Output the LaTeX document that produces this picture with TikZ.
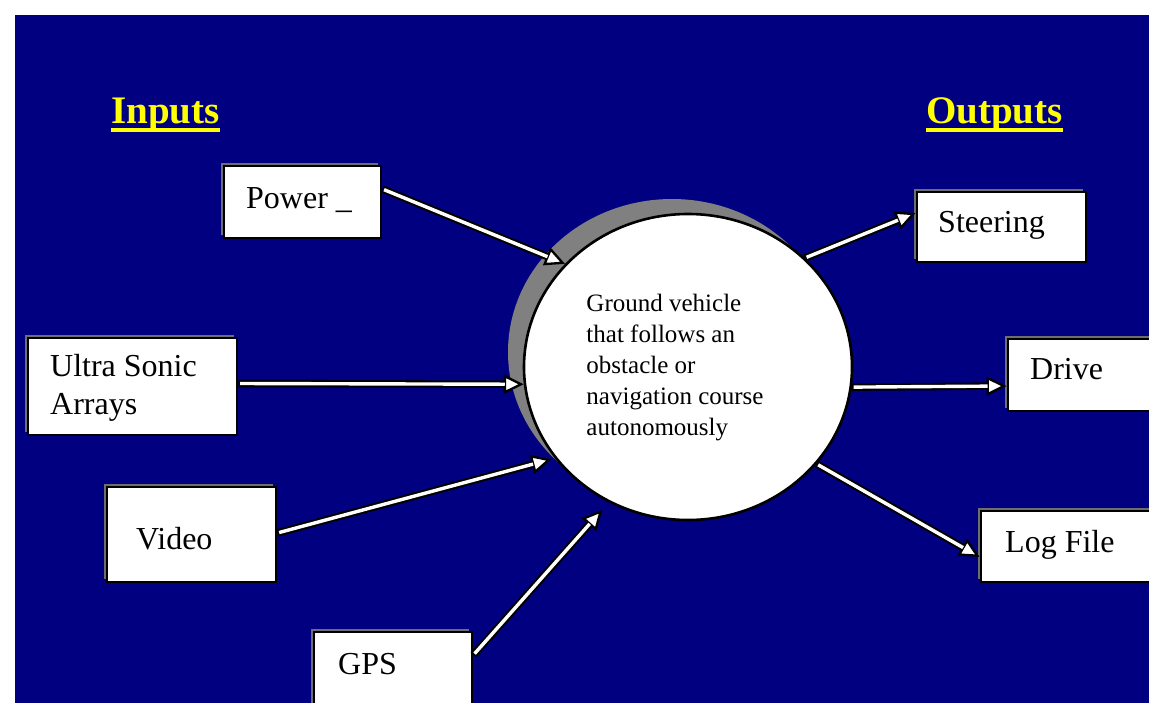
\documentclass[tikz,border=0pt]{standalone}
\usepackage{fontspec}
\setmainfont{Liberation Serif}
\usetikzlibrary{arrows.meta,calc,shapes.geometric,shadows}

\definecolor{navy}{HTML}{000080}
\definecolor{boxshade}{HTML}{6E6E6E}
\definecolor{discshade}{HTML}{808080}
\definecolor{headyellow}{HTML}{FFFF00}

\tikzset{
  ioblock/.style={rectangle, draw=black, fill=white, line width=2.8pt, inner sep=0pt,
    general shadow={fill=boxshade, shadow xshift=-3.5pt, shadow yshift=3.5pt}},
  boxtext/.style={inner sep=0pt, anchor=base west, font=\fontsize{32}{38}\selectfont},
  heading/.style={inner sep=0pt, anchor=base west, text=headyellow,
    font=\fontsize{39}{45}\selectfont\bfseries},
  headrule/.style={draw=headyellow, line width=4pt},
  flow/.style={draw=black, line width=7.5pt,
    -{Triangle[fill=white, length=20pt, width=19pt, line width=2.3pt]},
    postaction={draw=white, line width=3.4pt, -, shorten >=19pt, shorten <=1.8pt}},
}

\begin{document}
\begin{tikzpicture}[x=1pt,y=-1pt]
\useasboundingbox (0,0) rectangle (1149,702);
\clip (0,0) rectangle (1149,702);

% slide background
\fill[navy] (15,15) rectangle (1170,720);

% column headings
\node[heading] (inputs) at (111,123) {Inputs};
\node[heading] (outputs) at (926,123) {Outputs};
\draw[headrule] ($(inputs.base west)+(0,7)$) -- ($(inputs.base east)+(0,7)$);
\draw[headrule] ($(outputs.base west)+(0,7)$) -- ($(outputs.base east)+(0,7)$);

% central process
\node[ellipse, draw=black, fill=white, line width=2.6pt, inner sep=0pt,
      minimum width=328pt, minimum height=306pt,
      general shadow={fill=discshade, shadow xshift=-16pt, shadow yshift=15pt}]
      (veh) at (688,367) {};
\node[inner sep=0pt, align=left, font=\fontsize{25}{31}\selectfont] (vehtext) at (675,368)
  {Ground vehicle\\that follows an\\obstacle or\\navigation course\\autonomously};

% input blocks
\node[ioblock, minimum width=157pt, minimum height=72pt] (power) at (302.5,202) {};
\node[boxtext] (powert) at (246,208) {Power \_};

\node[ioblock, minimum width=209pt, minimum height=97pt] (ultra) at (132.5,386.5) {};
\node[inner sep=0pt, align=left, font=\fontsize{32}{38}\selectfont] (ultrat) at (123.5,387.5)
  {Ultra Sonic\\Arrays};

\node[ioblock, minimum width=169pt, minimum height=95pt] (video) at (191.5,534.5) {};
\node[boxtext] (videot) at (136,549) {Video};

\node[ioblock, minimum width=158pt, minimum height=80pt] (gps) at (393,672) {};
\node[boxtext] (gpst) at (338,674) {GPS};

% output blocks
\node[ioblock, minimum width=169pt, minimum height=70pt] (steer) at (1001.5,227) {};
\node[boxtext] (steert) at (938,232) {Steering};

\node[ioblock, minimum width=171pt, minimum height=72pt] (drive) at (1093.5,375) {};
\node[boxtext] (drivet) at (1030,379) {Drive};

\node[ioblock, minimum width=173pt, minimum height=71pt] (logf) at (1067.5,546.5) {};
\node[boxtext] (logft) at (1005,552) {Log File};

% inputs into the vehicle
\draw[flow] ($(power.east)+(0,-13)$) -- (veh.140);
\draw[flow] ($(ultra.east)+(0,-3)$) -- (veh.186);
\draw[flow] ($(video.east)+(0,-1.5)$) -- ($(veh.center)!1.02!(veh.214)$);
\draw[flow] ($(gps.east)+(0,-17)$) -- ($(veh.center)!1.06!(veh.239)$);

% vehicle outputs
\draw[flow] (veh.43) -- ($(steer.west)+(0,-14)$);
\draw[flow] (veh.353) -- ($(drive.west)+(0,11)$);
\draw[flow] (veh.323) -- ($(logf.west)+(0,10.5)$);
\end{tikzpicture}
\end{document}
